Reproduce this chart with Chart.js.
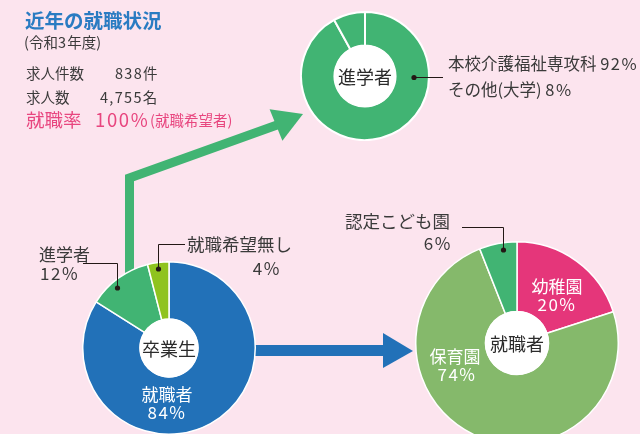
<!DOCTYPE html>
<html>
<head>
<meta charset="utf-8">
<script src="https://cdn.jsdelivr.net/npm/chart.js@4/dist/chart.umd.min.js"></script>
<style>
body { margin: 0; background: #fce4ee; }
#wrap { position: relative; width: 640px; height: 434px; overflow: hidden; background: #fce4ee;
        font-family: "Noto Sans CJK JP", "Noto Sans", sans-serif; color: #3a3a3a; }
#wrap canvas, #wrap .t { position: absolute; }
.t { white-space: nowrap; }
.t span { letter-spacing: 0.09em; }
</style>
</head>
<body>
<div id="wrap">
  <canvas id="arrows" width="640" height="434" style="left:0;top:0;z-index:0"></canvas>
  <canvas id="graduates" width="174" height="174" style="left:82px;top:261px;z-index:1"></canvas>
  <canvas id="advance" width="130" height="130" style="left:300px;top:11px;z-index:1"></canvas>
  <canvas id="jobs" width="204" height="204" style="left:415px;top:241px;z-index:1"></canvas>
  <canvas id="leaders" width="640" height="434" style="left:0;top:0;z-index:2"></canvas>
</div>
<script>
// data
const graduateLabels = ["就職者", "進学者", "就職希望無し"];
const graduateValues = [84, 12, 4];
const advanceLabels = ["本校介護福祉専攻科", "その他(大学)"];
const advanceValues = [92, 8];
const jobLabels = ["幼稚園", "保育園", "認定こども園"];
const jobValues = [20, 74, 6];
const statLabels = ["求人件数", "求人数"];
const statValues = ["838件", "4,755名"];
const employmentRate = "100%";

const BLUE = "#2271b8", GREEN = "#41b473", YGREEN = "#8fc31f", PINK = "#e5367a", LGREEN = "#85b96b";

let wrap = document.getElementById("wrap");

// put a text with its vertical centre at y; digit runs get a little wider spacing
let put = (text, x, y, size, color, align, weight) => {
    let d = document.createElement("div");
    d.className = "t";
    d.innerHTML = String(text).replace(/([0-9,%]+)/g, "<span>$1</span>");
    d.style.fontSize = size + "px";
    d.style.lineHeight = size + "px";
    d.style.top = (y - size / 2) + "px";
    d.style.color = color || "#3a3a3a";
    d.style.zIndex = 3;
    if (weight) d.style.fontWeight = weight;
    if (align == "center") { d.style.left = x + "px"; d.style.transform = "translateX(-50%)"; }
    else if (align == "right") { d.style.right = (640 - x) + "px"; }
    else { d.style.left = x + "px"; }
    wrap.appendChild(d);
};

// white hole with the centre label
const centerHole = {
    id: "centerHole",
    afterDatasetsDraw(chart, args, opts) {
        let arc = chart.getDatasetMeta(0).data[0];
        let ctx = chart.ctx;
        ctx.save();
        ctx.beginPath();
        ctx.arc(arc.x, arc.y, arc.innerRadius + 0.5, 0, Math.PI * 2);
        ctx.fillStyle = "#ffffff";
        ctx.fill();
        ctx.fillStyle = "#2b2b2b";
        ctx.font = '18px "Noto Sans CJK JP"';
        ctx.textAlign = "center";
        ctx.textBaseline = "middle";
        ctx.fillText(opts.text, arc.x, arc.y + 1);
        ctx.restore();
    }
};

let donut = (id, labels, values, colors, hole, border, text) => new Chart(id, {
    type: "doughnut",
    data: {
        labels: labels,
        datasets: [{ data: values, backgroundColor: colors, borderColor: "#ffffff", borderWidth: border }]
    },
    options: {
        responsive: false,
        animation: false,
        events: [],
        cutout: hole,
        plugins: {
            legend: { display: false },
            tooltip: { enabled: false },
            centerHole: { text: text }
        }
    },
    plugins: [centerHole]
});

donut("graduates", graduateLabels, graduateValues, [BLUE, GREEN, YGREEN], 29, 1.5, "卒業生");
donut("advance", advanceLabels, advanceValues, [GREEN, GREEN], 30.5, 2, "進学者");
donut("jobs", jobLabels, jobValues, [PINK, LGREEN, GREEN], 31.5, 1.5, "就職者");

// arrows
let a = document.getElementById("arrows").getContext("2d");
a.strokeStyle = GREEN; a.fillStyle = GREEN;
a.lineWidth = 9; a.lineJoin = "miter";
a.beginPath(); a.moveTo(129.5, 285); a.lineTo(129.5, 178); a.lineTo(277, 125); a.stroke();
a.beginPath(); a.moveTo(303, 114); a.lineTo(269.6, 109.3); a.lineTo(282.4, 140.7); a.closePath(); a.fill();
a.strokeStyle = BLUE; a.fillStyle = BLUE; a.lineWidth = 11;
a.beginPath(); a.moveTo(240, 350.5); a.lineTo(385, 350.5); a.stroke();
a.beginPath(); a.moveTo(383, 333); a.lineTo(413, 351); a.lineTo(383, 368); a.closePath(); a.fill();

// leader lines
let l = document.getElementById("leaders").getContext("2d");
l.strokeStyle = "#231815"; l.fillStyle = "#231815"; l.lineWidth = 1;
let leader = (pts) => {
    l.beginPath();
    l.moveTo(pts[0][0], pts[0][1]);
    for (let i = 1; i < pts.length; i++) l.lineTo(pts[i][0], pts[i][1]);
    l.stroke();
    let e = pts[pts.length - 1];
    l.beginPath(); l.arc(e[0], e[1], 2.6, 0, Math.PI * 2); l.fill();
};
leader([[83, 263.5], [117.5, 263.5], [117.5, 288]]);
leader([[185, 244.5], [158.5, 244.5], [158.5, 269]]);
leader([[443, 77.5], [414, 77.5]]);
leader([[462, 227.5], [503.5, 227.5], [503.5, 250]]);

// texts
put("近年の就職状況", 25, 20, 19.5, "#2a7bc2", "left", "bold");
put("(令和3年度)", 24, 42, 14.5);
put(statLabels[0], 26, 73, 14.5);
put(statValues[0], 115, 73, 14.5);
put(statLabels[1], 26, 97, 14.5);
put(statValues[1], 100, 97, 14.5);
put("就職率", 26, 119, 18.5, "#e8467f");
put(employmentRate, 95, 119, 18.5, "#e8467f");
put("(就職希望者)", 150, 120, 14.5, "#e8467f");

put(advanceLabels[0] + " " + advanceValues[0] + "%", 448, 63, 16.5);
put(advanceLabels[1] + " " + advanceValues[1] + "%", 448, 89, 16.5);

put(graduateLabels[1], 39, 253, 17);
put(graduateValues[1] + "%", 40, 272, 17);
put(graduateLabels[2], 187, 244, 17.5);
put(graduateValues[2] + "%", 281, 267, 17, null, "right");
put(graduateLabels[0], 167, 393, 17, "#ffffff", "center");
put(graduateValues[0] + "%", 167, 411, 17, "#ffffff", "center");

put(jobLabels[2], 345, 221, 17.5);
put(jobValues[2] + "%", 452, 242, 17, null, "right");
put(jobLabels[0], 557, 285, 17, "#ffffff", "center");
put(jobValues[0] + "%", 557, 303, 17, "#ffffff", "center");
put(jobLabels[1], 455, 355, 17, "#ffffff", "center");
put(jobValues[1] + "%", 457, 373, 17, "#ffffff", "center");
</script>
</body>
</html>
